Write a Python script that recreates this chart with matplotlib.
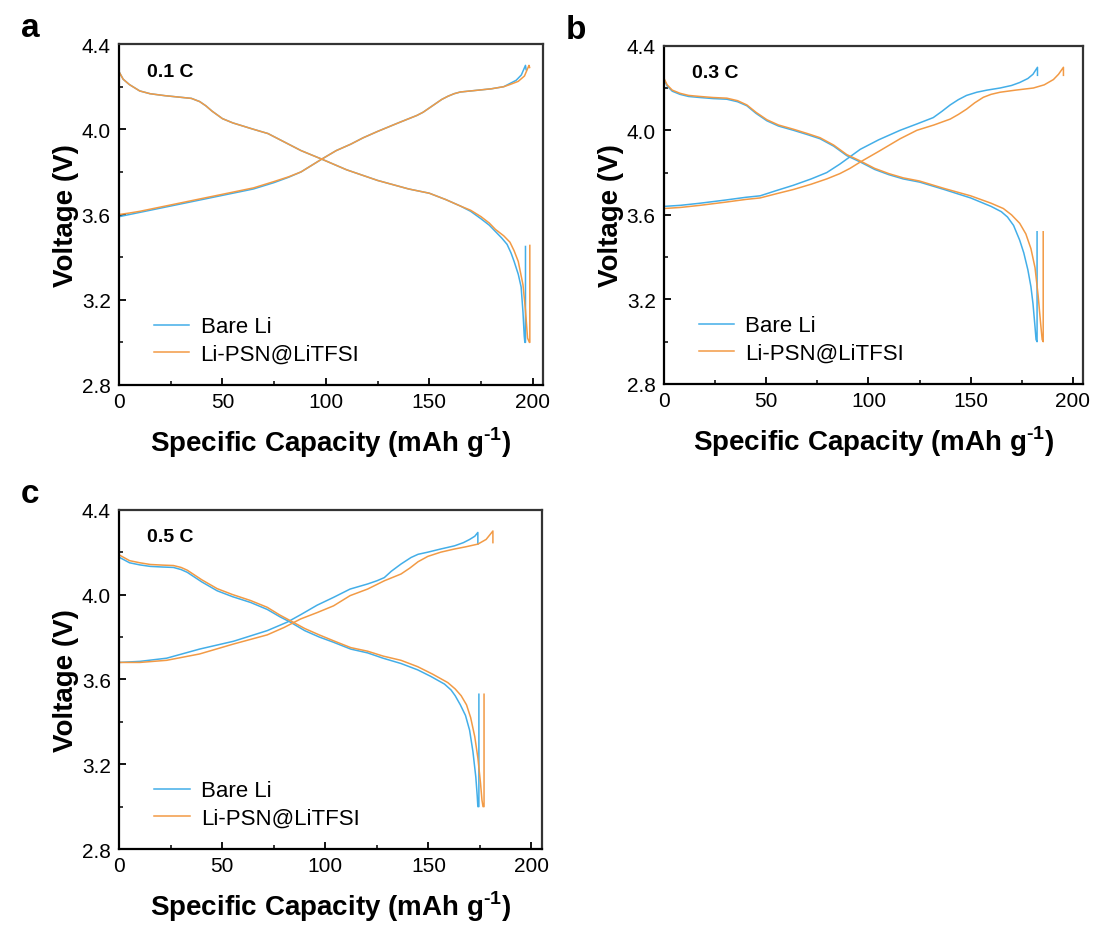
import matplotlib
matplotlib.use("Agg")
import matplotlib.pyplot as plt

plt.rcParams['font.family'] = ['Liberation Sans', 'DejaVu Sans']

BLUE = '#43aee8'
ORANGE = '#f29a45'

# ---- panel a : 0.1 C ----
a_chg_bare_x = [0, 5, 10, 25, 40, 50, 65, 75, 82, 88, 93, 98, 105, 112, 118, 125, 135, 144, 147, 150, 153, 156, 159, 162, 165, 170, 180, 186, 189, 192, 194.5, 196.5, 196.8]
a_chg_bare_y = [3.59, 3.60, 3.61, 3.64, 3.67, 3.69, 3.72, 3.75, 3.775, 3.80, 3.83, 3.86, 3.90, 3.93, 3.96, 3.99, 4.03, 4.065, 4.08, 4.10, 4.12, 4.14, 4.155, 4.167, 4.175, 4.18, 4.19, 4.20, 4.215, 4.23, 4.255, 4.30, 4.28]
a_chg_psn_x = [0, 5, 10, 25, 40, 50, 65, 75, 82, 88, 93, 98, 105, 112, 118, 125, 135, 144, 147, 150, 153, 156, 159, 162, 165, 170, 180, 186, 189, 193, 196, 198.2, 198.5]
a_chg_psn_y = [3.60, 3.607, 3.615, 3.645, 3.675, 3.695, 3.725, 3.755, 3.777, 3.80, 3.83, 3.86, 3.90, 3.93, 3.96, 3.99, 4.03, 4.065, 4.08, 4.10, 4.12, 4.14, 4.155, 4.167, 4.175, 4.18, 4.19, 4.20, 4.21, 4.225, 4.25, 4.30, 4.29]
a_dis_bare_x = [0, 2, 5, 10, 15, 22, 30, 35, 39, 42, 45, 50, 55, 65, 72, 80, 88, 98, 110, 125, 140, 150, 158, 165, 170, 175, 179, 182, 185, 187.6, 189.5, 191, 193, 194.4, 195.3, 195.9, 196.2, 196.5, 196.5]
a_dis_bare_y = [4.27, 4.235, 4.21, 4.18, 4.167, 4.158, 4.15, 4.145, 4.13, 4.11, 4.085, 4.05, 4.03, 4.0, 3.98, 3.94, 3.90, 3.86, 3.81, 3.76, 3.72, 3.70, 3.67, 3.64, 3.615, 3.58, 3.55, 3.52, 3.49, 3.46, 3.42, 3.38, 3.32, 3.26, 3.14, 3.03, 3.00, 3.00, 3.45]
a_dis_psn_x = [0, 2, 5, 10, 15, 22, 30, 35, 39, 42, 45, 50, 55, 65, 72, 80, 88, 98, 110, 125, 140, 150, 158, 165, 170, 175, 179, 182, 186, 189, 191, 193, 195.3, 196.5, 197.5, 198.4, 198.6, 198.6]
a_dis_psn_y = [4.27, 4.235, 4.21, 4.18, 4.167, 4.158, 4.15, 4.145, 4.13, 4.11, 4.085, 4.05, 4.03, 4.0, 3.98, 3.94, 3.90, 3.86, 3.81, 3.76, 3.72, 3.70, 3.67, 3.64, 3.62, 3.59, 3.56, 3.53, 3.50, 3.47, 3.43, 3.38, 3.27, 3.15, 3.02, 3.00, 3.00, 3.455]

# ---- panel b : 0.3 C ----
b_chg_bare_x = [0, 8, 17.6, 30, 40, 47, 55, 63.3, 72, 79.6, 86, 91, 96, 105, 115.5, 123.7, 131.7, 136, 140, 144, 148, 153, 158, 164.4, 170, 174, 178, 180.5, 182.7, 182.7]
b_chg_bare_y = [3.64, 3.645, 3.655, 3.67, 3.683, 3.69, 3.715, 3.74, 3.77, 3.80, 3.84, 3.875, 3.91, 3.955, 4.0, 4.03, 4.06, 4.09, 4.12, 4.145, 4.165, 4.18, 4.19, 4.20, 4.212, 4.226, 4.245, 4.265, 4.298, 4.26]
b_chg_psn_x = [0, 8, 17.6, 30, 40, 47, 55, 63.3, 72, 79.6, 86, 91, 96, 105, 115.5, 123.7, 132, 140, 144, 148, 152, 156.2, 160, 164.4, 172, 180.7, 186, 190.5, 193, 195.4, 195.4]
b_chg_psn_y = [3.63, 3.635, 3.645, 3.66, 3.673, 3.68, 3.70, 3.72, 3.745, 3.77, 3.795, 3.82, 3.85, 3.90, 3.96, 4.0, 4.025, 4.053, 4.075, 4.10, 4.13, 4.156, 4.17, 4.18, 4.19, 4.20, 4.215, 4.24, 4.265, 4.298, 4.26]
b_dis_bare_x = [0, 1.5, 4, 7.8, 12, 17.6, 24, 30.7, 36, 40.5, 45, 50.3, 56, 63.3, 70, 76.3, 83, 89.4, 96, 103, 110, 117, 125, 137, 150, 160, 165, 168, 171, 174, 176, 178, 179.5, 180.5, 181.5, 182, 182.5, 182.5]
b_dis_bare_y = [4.24, 4.21, 4.185, 4.17, 4.16, 4.155, 4.15, 4.147, 4.135, 4.116, 4.08, 4.045, 4.02, 4.0, 3.98, 3.96, 3.925, 3.88, 3.85, 3.815, 3.79, 3.77, 3.755, 3.72, 3.68, 3.64, 3.615, 3.59, 3.55, 3.48, 3.42, 3.34, 3.26, 3.18, 3.07, 3.01, 3.0, 3.52]
b_dis_psn_x = [0, 1.5, 4, 7.8, 12, 17.6, 24, 30.7, 36, 40.5, 45, 50.3, 56, 63.3, 70, 76.3, 83, 89.4, 96, 103, 110, 117, 125, 137, 150, 160, 166, 170, 174, 177, 179.5, 181.5, 183, 184.3, 185, 185.5, 185.5]
b_dis_psn_y = [4.245, 4.215, 4.19, 4.175, 4.165, 4.16, 4.155, 4.152, 4.14, 4.12, 4.085, 4.05, 4.025, 4.005, 3.985, 3.965, 3.93, 3.885, 3.855, 3.82, 3.795, 3.775, 3.76, 3.725, 3.69, 3.655, 3.63, 3.60, 3.56, 3.51, 3.44, 3.35, 3.22, 3.08, 3.01, 3.0, 3.52]

# ---- panel c : 0.5 C ----
c_chg_bare_x = [0, 10, 23, 39, 55.5, 71.8, 81.5, 88, 96, 104, 112, 120.5, 125, 128.6, 132, 136.7, 141.6, 145, 149.7, 156, 162.7, 167, 170, 172.5, 174, 174]
c_chg_bare_y = [3.68, 3.685, 3.70, 3.743, 3.78, 3.83, 3.87, 3.905, 3.95, 3.987, 4.026, 4.05, 4.065, 4.08, 4.11, 4.144, 4.175, 4.19, 4.2, 4.215, 4.23, 4.245, 4.26, 4.275, 4.293, 4.238]
c_chg_psn_x = [0, 10, 23, 39, 55.5, 71.8, 80, 88, 96, 104, 112, 120.5, 128.6, 136.7, 141, 145, 149.7, 156, 162.7, 168, 174, 178, 180.5, 181.3, 181.3]
c_chg_psn_y = [3.68, 3.68, 3.69, 3.72, 3.767, 3.81, 3.845, 3.885, 3.915, 3.947, 3.995, 4.026, 4.065, 4.097, 4.125, 4.155, 4.18, 4.2, 4.215, 4.225, 4.238, 4.26, 4.29, 4.30, 4.245]
c_dis_bare_x = [0, 5, 10, 15, 21, 26.3, 30, 33, 40, 47.5, 55, 63.7, 71.8, 78, 83, 90, 97, 104, 112.3, 120.5, 128, 136.7, 144.8, 151, 157.8, 161, 163, 165.5, 168, 170, 171.6, 173, 173.7, 174, 174.5, 174.5]
c_dis_bare_y = [4.176, 4.15, 4.14, 4.133, 4.13, 4.128, 4.118, 4.105, 4.06, 4.018, 3.99, 3.963, 3.93, 3.895, 3.87, 3.83, 3.80, 3.775, 3.743, 3.725, 3.70, 3.675, 3.645, 3.615, 3.578, 3.55, 3.523, 3.48, 3.43, 3.36, 3.26, 3.14, 3.05, 3.0, 3.0, 3.53]
c_dis_psn_x = [0, 5, 10, 15, 21, 26.3, 30, 33, 40, 47.5, 55, 63.7, 71.8, 78, 83, 90, 97, 104, 112.3, 120.5, 128, 136.7, 144.8, 152, 159.4, 163, 165.9, 168.5, 170.5, 172.5, 174, 175.3, 176, 176.5, 177, 177]
c_dis_psn_y = [4.187, 4.16, 4.15, 4.142, 4.139, 4.137, 4.128, 4.115, 4.07, 4.028, 4.0, 3.972, 3.94, 3.903, 3.877, 3.84, 3.81, 3.782, 3.75, 3.733, 3.71, 3.69, 3.66, 3.625, 3.585, 3.555, 3.523, 3.48, 3.42, 3.33, 3.23, 3.11, 3.03, 3.0, 3.0, 3.53]

panels = [
    ('a', '0.1 C', [0.1088, 0.5845, 0.3876, 0.367],
     a_chg_bare_x, a_chg_bare_y, a_dis_bare_x, a_dis_bare_y,
     a_chg_psn_x, a_chg_psn_y, a_dis_psn_x, a_dis_psn_y),
    ('b', '0.3 C', [0.607, 0.5856, 0.383, 0.3641],
     b_chg_bare_x, b_chg_bare_y, b_dis_bare_x, b_dis_bare_y,
     b_chg_psn_x, b_chg_psn_y, b_dis_psn_x, b_dis_psn_y),
    ('c', '0.5 C', [0.109, 0.085, 0.3862, 0.3652],
     c_chg_bare_x, c_chg_bare_y, c_dis_bare_x, c_dis_bare_y,
     c_chg_psn_x, c_chg_psn_y, c_dis_psn_x, c_dis_psn_y),
]

fig = plt.figure(figsize=(10.94, 9.29), dpi=100)

for (letter, rate, pos, cbx, cby, dbx, dby, cpx, cpy, dpx, dpy) in panels:
    ax = fig.add_axes(pos)
    ax.plot(cbx, cby, color=BLUE, lw=1.1, label='Bare Li')
    ax.plot(dbx, dby, color=BLUE, lw=1.1)
    ax.plot(cpx, cpy, color=ORANGE, lw=1.1, label='Li-PSN@LiTFSI')
    ax.plot(dpx, dpy, color=ORANGE, lw=1.1)

    ax.set_xlim(0, 205)
    ax.set_ylim(2.8, 4.4)
    ax.set_xticks([0, 50, 100, 150, 200])
    ax.set_xticks([25, 75, 125, 175], minor=True)
    ax.set_yticks([2.8, 3.2, 3.6, 4.0, 4.4])
    ax.set_yticks([3.0, 3.4, 3.8, 4.2], minor=True)
    ax.set_yticklabels(['2.8', '3.2', '3.6', '4.0', '4.4'])
    ax.tick_params(which='major', direction='in', length=5, width=1.3, labelsize=15, pad=6)
    ax.tick_params(which='minor', direction='in', length=3, width=1.1)
    ax.tick_params(axis='x', pad=5)
    for s in ax.spines.values():
        s.set_linewidth(1.6)
        s.set_color('#333333')
    ax.spines['left'].set_color('black')
    ax.spines['bottom'].set_color('black')

    ax.set_xlabel('Specific Capacity (mAh g$^{\\mathregular{\u20101}}$)', fontsize=20, fontweight='bold', labelpad=10)
    ax.set_ylabel('Voltage (V)', fontsize=20, fontweight='bold', labelpad=2)
    ax.text(0.066, 0.92, rate, transform=ax.transAxes, fontsize=14, fontweight='bold', va='center')

    ax.legend(loc='lower left', bbox_to_anchor=(0.035, 0.0), frameon=False, fontsize=16,
              handlelength=1.6, handletextpad=0.5, labelspacing=0.3)

    bb = ax.get_position()
    fig.text(bb.x0 - 0.09, bb.y1 + 0.018, letter, fontsize=24, fontweight='bold', va='center')

fig.savefig('out.png', dpi=100)
